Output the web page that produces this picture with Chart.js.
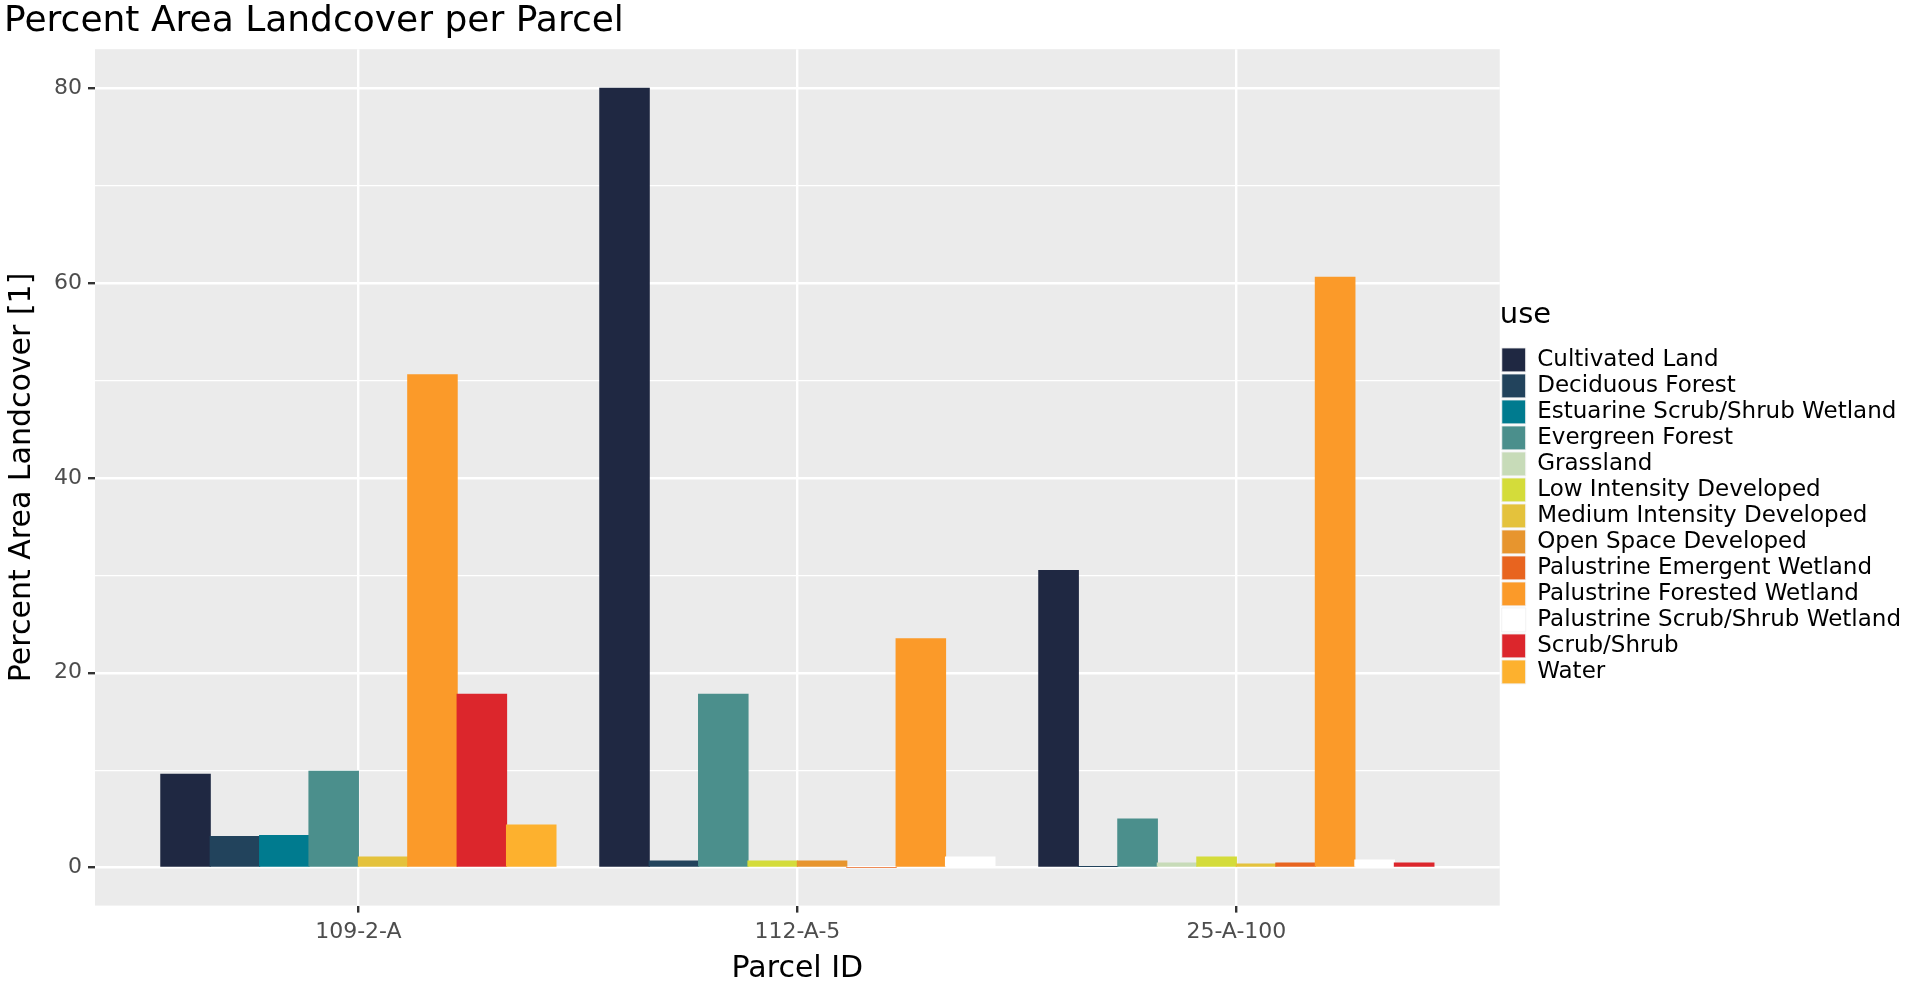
<!DOCTYPE html>
<html>
<head>
<meta charset="utf-8">
<script src="https://cdn.jsdelivr.net/npm/chart.js@4"></script>
<style>
  html, body { margin: 0; padding: 0; background: #fff; }
  #wrap { width: 1911px; height: 995px; }
</style>
</head>
<body>
<div id="wrap"><canvas id="landcover-chart"></canvas></div>
<script>
// Landgebruik categorieen en kleuren
const uses = ['Cultivated Land', 'Deciduous Forest', 'Estuarine Scrub/Shrub Wetland', 'Evergreen Forest',
  'Grassland', 'Low Intensity Developed', 'Medium Intensity Developed', 'Open Space Developed',
  'Palustrine Emergent Wetland', 'Palustrine Forested Wetland', 'Palustrine Scrub/Shrub Wetland',
  'Scrub/Shrub', 'Water'];
const useColors = ['#1f2842', '#22435c', '#007b8f', '#4b8f8c', '#c7dbb8', '#d4dc3a', '#e4c23c',
  '#e7952e', '#e8641f', '#fb9a29', '#ffffff', '#dc262c', '#fdb12e'];

const parcels = ['109-2-A', '112-A-5', '25-A-100'];

// Percentages per perceel (null = categorie komt niet voor)
const parcel1092A = [9.6, 3.2, 3.3, 9.9, null, null, 1.1, null, null, 50.6, null, 17.8, 4.4];
const parcel112A5 = [80.0, 0.7, null, 17.8, null, 0.7, null, 0.7, 0, 23.5, 1.1, null, null];
const parcel25A100 = [30.5, 0.1, null, 5.0, 0.5, 1.1, 0.4, null, 0.5, 60.6, 0.8, 0.5, null];
const parcelValues = [parcel1092A, parcel112A5, parcel25A100];

const yTicks = [0, 20, 40, 60, 80];
const dodgeWidth = 0.9;

// Bouw per perceel een dataset met gedodgede posities (zoals ggplot position_dodge)
const datasets = parcelValues.map((values, g) => {
  const present = values.map((v, i) => ({ v, i })).filter(d => d.v !== null);
  const n = present.length;
  return {
    label: parcels[g],
    slots: n,
    data: present.map((d, k) => ({ x: g + 1 - dodgeWidth / 2 + (k + 0.5) * dodgeWidth / n, y: d.v })),
    backgroundColor: present.map(d => useColors[d.i]),
    borderWidth: 0,
    barThickness: 30,
    grouped: false
  };
});

const panelBackground = {
  id: 'panelBackground',
  beforeDraw(chart) {
    const { ctx, chartArea: a } = chart;
    ctx.save();
    ctx.fillStyle = '#ebebeb';
    ctx.fillRect(a.left, a.top, a.right - a.left, a.bottom - a.top);
    ctx.restore();
  }
};

const ctx = document.getElementById('landcover-chart').getContext('2d');
const chart = new Chart(ctx, {
  type: 'bar',
  data: { datasets },
  plugins: [panelBackground],
  options: {
    responsive: true,
    maintainAspectRatio: false,
    animation: false,
    layout: { padding: { top: 0, right: 0, left: 4, bottom: 8 } },
    plugins: {
      title: {
        display: true,
        text: 'Percent Area Landcover per Parcel',
        align: 'start',
        color: '#000',
        font: { family: 'DejaVu Sans', size: 36, weight: 'normal' },
        padding: { top: 0, bottom: 6 }
      },
      tooltip: { enabled: false },
      legend: {
        position: 'right',
        align: 'center',
        title: {
          display: true,
          text: 'use',
          position: 'start',
          color: '#000',
          font: { family: 'DejaVu Sans', size: 29 },
          padding: { top: 0, bottom: 10 }
        },
        labels: {
          boxWidth: 24,
          boxHeight: 24,
          padding: 2,
          color: '#000',
          font: { family: 'DejaVu Sans', size: 23 },
          generateLabels: () => uses.map((u, i) => ({
            text: u,
            fillStyle: useColors[i],
            strokeStyle: '#f2f2f2',
            lineWidth: 1,
            hidden: false,
            datasetIndex: 0
          }))
        },
        onClick: () => {}
      }
    },
    scales: {
      x: {
        type: 'linear',
        offset: false,
        min: 0.4,
        max: 3.6,
        afterBuildTicks: axis => { axis.ticks = [1, 2, 3].map(v => ({ value: v })); },
        ticks: {
          color: '#4d4d4d',
          font: { family: 'DejaVu Sans', size: 22 },
          callback: value => parcels[value - 1],
          padding: 6
        },
        grid: { offset: false, color: '#ffffff', lineWidth: 2.4, tickColor: '#333', tickLength: 7 },
        border: { display: false },
        title: {
          display: true,
          text: 'Parcel ID',
          color: '#000',
          font: { family: 'DejaVu Sans', size: 30 },
          padding: { top: 0, bottom: 0 }
        }
      },
      y: {
        min: -3.9,
        max: 84,
        afterBuildTicks: axis => {
          axis.ticks = [0, 10, 20, 30, 40, 50, 60, 70, 80].map(v => ({ value: v }));
        },
        ticks: {
          color: '#4d4d4d',
          font: { family: 'DejaVu Sans', size: 22 },
          callback: value => (yTicks.includes(value) ? value : ''),
          padding: 6
        },
        grid: {
          color: '#ffffff',
          lineWidth: c => (yTicks.includes(c.tick.value) ? 2.4 : 1.2),
          tickColor: c => (yTicks.includes(c.tick.value) ? '#333' : 'rgba(0,0,0,0)'),
          tickLength: 7
        },
        border: { display: false },
        title: {
          display: true,
          text: 'Percent Area Landcover [1]',
          color: '#000',
          font: { family: 'DejaVu Sans', size: 30 },
          padding: { top: 0, bottom: 8 }
        }
      }
    }
  }
});

// Zet de balkbreedte gelijk aan de dodge-slotbreedte in pixels
const xScale = chart.scales.x;
const unit = xScale.getPixelForValue(1) - xScale.getPixelForValue(0);
chart.data.datasets.forEach(ds => { ds.barThickness = unit * dodgeWidth / ds.slots + 0.5; });
chart.update();
</script>
</body>
</html>
